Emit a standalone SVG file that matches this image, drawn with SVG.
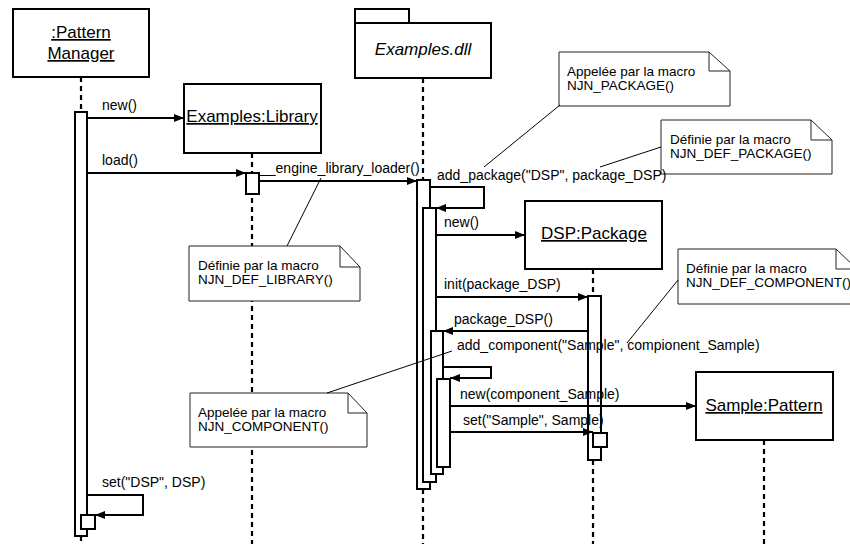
<svg xmlns="http://www.w3.org/2000/svg" width="850" height="544" viewBox="0 0 850 544">
<style>
.box{fill:#fff;stroke:#000;stroke-width:2}
.bar{fill:#fff;stroke:#000;stroke-width:2}
.life{stroke:#000;stroke-width:2.2;stroke-dasharray:5,4;fill:none}
.note{fill:#fff;stroke:#222;stroke-width:1}
.fold{fill:none;stroke:#222;stroke-width:1}
.anchor{stroke:#000;stroke-width:1;fill:none}
.msg{stroke:#000;stroke-width:2;fill:none;marker-end:url(#arr)}
.title{font-family:"Liberation Sans",Arial,sans-serif;font-size:17px;text-anchor:middle;text-decoration:underline}
.ital{font-family:"Liberation Sans",Arial,sans-serif;font-size:17px;text-anchor:middle;font-style:italic}
.lbl{font-family:"Liberation Sans",Arial,sans-serif;font-size:14px}
.ntxt{font-family:"Liberation Sans",Arial,sans-serif;font-size:13.5px}
</style>
<defs>
<marker id="arr" markerUnits="userSpaceOnUse" markerWidth="10" markerHeight="8" refX="10" refY="4" orient="auto">
<path d="M0,0 L10,4 L0,8 z" fill="#000"/>
</marker>
</defs>
<rect width="850" height="544" fill="#fff"/>

<g id="lifelines">
<line class="life" x1="81" y1="77" x2="81" y2="112"/>
<line class="life" x1="81" y1="536" x2="81" y2="544"/>
<line class="life" x1="252" y1="153" x2="252" y2="544"/>
<line class="life" x1="423" y1="78" x2="423" y2="180"/>
<line class="life" x1="423" y1="489" x2="423" y2="544"/>
<line class="life" x1="593" y1="269" x2="593" y2="296"/>
<line class="life" x1="593" y1="460" x2="593" y2="544"/>
<line class="life" x1="764" y1="440" x2="764" y2="544"/>
</g>

<g id="patternManager">
<rect class="box" x="13" y="9" width="136" height="68"/>
<text class="title" x="81" y="38">:Pattern</text>
<text class="title" x="81" y="59">Manager</text>
</g>

<g id="examplesLibrary">
<rect class="box" x="184" y="84" width="137" height="69"/>
<text class="title" x="252" y="122">Examples:Library</text>
</g>

<g id="examplesDll">
<rect class="box" x="355" y="9" width="54" height="14"/>
<rect class="box" x="355" y="23" width="136" height="55"/>
<text class="ital" x="423" y="55">Examples.dll</text>
</g>

<g id="dspPackage">
<rect class="box" x="525" y="201" width="137" height="68"/>
<text class="title" x="594" y="239">DSP:Package</text>
</g>

<g id="samplePattern">
<rect class="box" x="696" y="372" width="137" height="68"/>
<text class="title" x="764" y="411">Sample:Pattern</text>
</g>

<g id="note1">
<path class="note" d="M559,52 H709 L730,71 V106 H559 Z"/>
<path class="fold" d="M709,52 V71 H730"/>
<text class="ntxt" x="567" y="76">Appelée par la macro</text>
<text class="ntxt" x="567" y="90">NJN_PACKAGE()</text>
</g>

<g id="note2">
<path class="note" d="M661,120 H811 L832,140 V174 H661 Z"/>
<path class="fold" d="M811,120 V140 H832"/>
<text class="ntxt" x="670" y="144">Définie par la macro</text>
<text class="ntxt" x="670" y="158">NJN_DEF_PACKAGE()</text>
</g>

<g id="note3">
<path class="note" d="M189,246 H340 L360,267 V301 H189 Z"/>
<path class="fold" d="M340,246 V267 H360"/>
<text class="ntxt" x="198" y="270">Définie par la macro</text>
<text class="ntxt" x="198" y="284">NJN_DEF_LIBRARY()</text>
</g>

<g id="note4">
<path class="note" d="M678,249 H836 L857,269 V304 H678 Z"/>
<path class="fold" d="M836,249 V269 H857"/>
<text class="ntxt" x="686" y="273">Définie par la macro</text>
<text class="ntxt" x="686" y="287">NJN_DEF_COMPONENT()</text>
</g>

<g id="note5">
<path class="note" d="M190,393 H348 L367,413 V447 H190 Z"/>
<path class="fold" d="M348,393 V413 H367"/>
<text class="ntxt" x="198" y="417">Appelée par la macro</text>
<text class="ntxt" x="198" y="431">NJN_COMPONENT()</text>
</g>

<g id="activations">
<rect class="bar" x="75" y="112" width="12" height="424"/>
<rect class="bar" x="81" y="515" width="14" height="14"/>
<rect class="bar" x="246" y="173" width="13" height="21"/>
<rect class="bar" x="417" y="180" width="13" height="309"/>
<rect class="bar" x="423" y="208" width="13" height="274"/>
<rect class="bar" x="431" y="331" width="12" height="143"/>
<rect class="bar" x="437" y="379" width="13" height="88"/>
<rect class="bar" x="588" y="296" width="13" height="164"/>
<rect class="bar" x="593" y="433" width="14" height="14"/>
</g>

<g id="connectors">
<line class="msg" x1="87" y1="118" x2="184" y2="118"/>
<line class="msg" x1="87" y1="173" x2="246" y2="173"/>
<line class="msg" x1="259" y1="181" x2="417" y2="181"/>
<polyline class="msg" points="430,187 484,187 484,208 436,208"/>
<line class="msg" x1="436" y1="235" x2="525" y2="235"/>
<line class="msg" x1="436" y1="297" x2="588" y2="297"/>
<line class="msg" x1="588" y1="331" x2="443" y2="331"/>
<polyline class="msg" points="443,367 491,367 491,378 450,378"/>
<line class="msg" x1="450" y1="406" x2="696" y2="406"/>
<line class="msg" x1="450" y1="432" x2="593" y2="432"/>
<polyline class="msg" points="87,495 143,495 143,515 95,515"/>
<line class="anchor" x1="560" y1="105" x2="484" y2="167"/>
<line class="anchor" x1="661" y1="147" x2="600" y2="167"/>
<line class="anchor" x1="321" y1="178" x2="287" y2="246"/>
<line class="anchor" x1="678" y1="280" x2="627" y2="343"/>
<line class="anchor" x1="327" y1="393" x2="452" y2="351"/>
</g>

<g id="labels">
<text class="lbl" x="102" y="110">new()</text>
<text class="lbl" x="102" y="165">load()</text>
<text class="lbl" x="260" y="173">__engine_library_loader()</text>
<text class="lbl" x="437" y="180">add_package("DSP", package_DSP)</text>
<text class="lbl" x="444" y="227">new()</text>
<text class="lbl" x="444" y="289">init(package_DSP)</text>
<text class="lbl" x="454" y="324">package_DSP()</text>
<text class="lbl" x="457" y="350">add_component("Sample", compionent_Sample)</text>
<text class="lbl" x="460" y="399">new(component_Sample)</text>
<text class="lbl" x="463" y="425">set("Sample", Sample)</text>
<text class="lbl" x="102" y="487">set("DSP", DSP)</text>
</g>
</svg>
